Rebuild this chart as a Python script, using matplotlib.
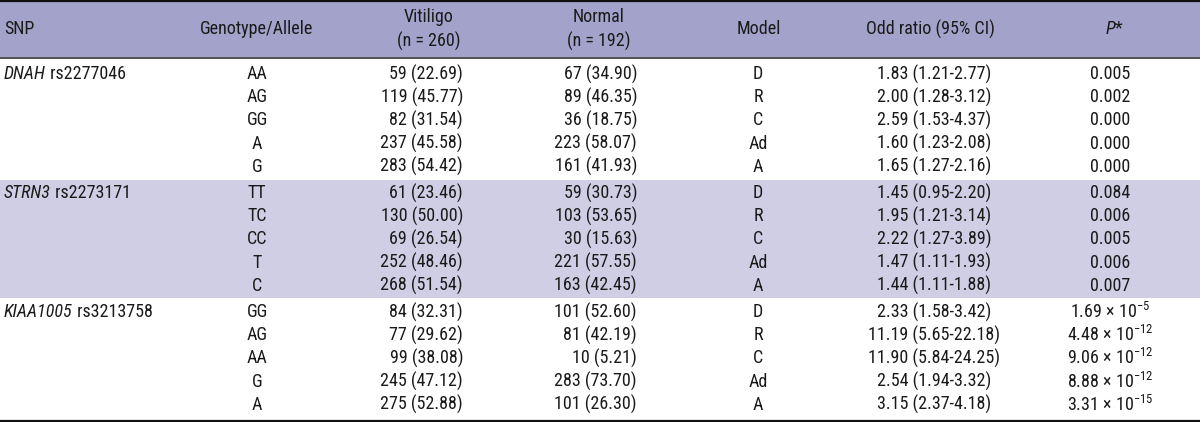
import matplotlib
matplotlib.use("Agg")
import matplotlib.pyplot as plt
from matplotlib import font_manager as fm

# pick a condensed sans if one is installed
fam, stretch = 'Liberation Sans', 'normal'
for f in fm.fontManager.ttflist:
    if f.name in ('Liberation Sans Narrow', 'Roboto Condensed', 'Open Sans Condensed'):
        fam, stretch = f.name, 'normal'
        break
else:
    for f in fm.fontManager.ttflist:
        if f.name in ('DejaVu Sans', 'Noto Sans', 'Open Sans') and str(f.stretch) in ('condensed', '75', 'semi-condensed', '87.5'):
            fam, stretch = f.name, f.stretch
            break

plt.rcParams['font.family'] = [fam, 'DejaVu Sans']
plt.rcParams['font.stretch'] = stretch
plt.rcParams['mathtext.fontset'] = 'custom'
plt.rcParams['mathtext.rm'] = fam
plt.rcParams['mathtext.it'] = fam + ':italic'

# table contents
genes = ["DNAH", "STRN3", "KIAA1005"]
rsids = ["rs2277046", "rs2273171", "rs3213758"]
genotypes = ["AA", "AG", "GG", "A", "G",
             "TT", "TC", "CC", "T", "C",
             "GG", "AG", "AA", "G", "A"]
vitiligo = ["59 (22.69)", "119 (45.77)", "82 (31.54)", "237 (45.58)", "283 (54.42)",
            "61 (23.46)", "130 (50.00)", "69 (26.54)", "252 (48.46)", "268 (51.54)",
            "84 (32.31)", "77 (29.62)", "99 (38.08)", "245 (47.12)", "275 (52.88)"]
normal = ["67 (34.90)", "89 (46.35)", "36 (18.75)", "223 (58.07)", "161 (41.93)",
          "59 (30.73)", "103 (53.65)", "30 (15.63)", "221 (57.55)", "163 (42.45)",
          "101 (52.60)", "81 (42.19)", "10 (5.21)", "283 (73.70)", "101 (26.30)"]
models = ["D", "R", "C", "Ad", "A"] * 3
odds = ["1.83 (1.21-2.77)", "2.00 (1.28-3.12)", "2.59 (1.53-4.37)", "1.60 (1.23-2.08)", "1.65 (1.27-2.16)",
        "1.45 (0.95-2.20)", "1.95 (1.21-3.14)", "2.22 (1.27-3.89)", "1.47 (1.11-1.93)", "1.44 (1.11-1.88)",
        "2.33 (1.58-3.42)", "11.19 (5.65-22.18)", "11.90 (5.84-24.25)", "2.54 (1.94-3.32)", "3.15 (2.37-4.18)"]
pvals = ["0.005", "0.002", "0.000", "0.000", "0.000",
         "0.084", "0.006", "0.005", "0.006", "0.007",
         "1.69 × 10$^{-5}$", "4.48 × 10$^{-12}$", "9.06 × 10$^{-12}$", "8.88 × 10$^{-12}$", "3.31 × 10$^{-15}$"]

header_bg = '#a3a2ca'
band_bg = '#cfcee4'
ink = '#1a1a1a'
fs = 13 if fam != 'Liberation Sans' else 11.5

fig = plt.figure(figsize=(12, 4.22), dpi=100)
ax = fig.add_axes([0, 0, 1, 1])
ax.set_xlim(0, 1200)
ax.set_ylim(422, 0)
ax.axis('off')

ax.axhspan(1, 57, color=header_bg, lw=0)
ax.axhspan(180, 298, color=band_bg, lw=0)
ax.axhline(1, color='#111', lw=1.6)
ax.axhline(57.5, color='#222', lw=1.1)
ax.axhline(420.5, color='#111', lw=1.6)

# header
ax.text(4, 29, "SNP", fontsize=fs, color=ink, ha='left', va='center')
ax.text(257, 29, "Genotype/Allele", fontsize=fs, color=ink, ha='center', va='center')
ax.text(429, 17, "Vitiligo", fontsize=fs, color=ink, ha='center', va='center')
ax.text(429, 41, "(n = 260)", fontsize=fs, color=ink, ha='center', va='center')
ax.text(599, 17, "Normal", fontsize=fs, color=ink, ha='center', va='center')
ax.text(599, 41, "(n = 192)", fontsize=fs, color=ink, ha='center', va='center')
ax.text(759, 29, "Model", fontsize=fs, color=ink, ha='center', va='center')
ax.text(930, 29, "Odd ratio (95% CI)", fontsize=fs, color=ink, ha='center', va='center')
ax.text(1115, 29, "$P$*", fontsize=fs, color=ink, ha='center', va='center')

block_tops = [60, 179, 298]
pitch = 23.2
for b in range(3):
    y0 = block_tops[b] + 14
    g = ax.text(4, y0, genes[b], fontsize=fs, color=ink, style='italic',
                ha='left', va='center')
    ax.annotate(" " + rsids[b], xy=(1, 0), xycoords=g, fontsize=fs, color=ink,
                ha='left', va='bottom')
    for i in range(5):
        k = b * 5 + i
        y = y0 + i * pitch
        ax.text(257, y, genotypes[k], fontsize=fs, color=ink, ha='center', va='center')
        ax.text(463, y, vitiligo[k], fontsize=fs, color=ink, ha='right', va='center')
        ax.text(637, y, normal[k], fontsize=fs, color=ink, ha='right', va='center')
        ax.text(758, y, models[k], fontsize=fs, color=ink, ha='center', va='center')
        ax.text(934, y, odds[k], fontsize=fs, color=ink, ha='center', va='center')
        ax.text(1110, y, pvals[k], fontsize=fs, color=ink, ha='center', va='center')

fig.savefig("out.png", dpi=100)
